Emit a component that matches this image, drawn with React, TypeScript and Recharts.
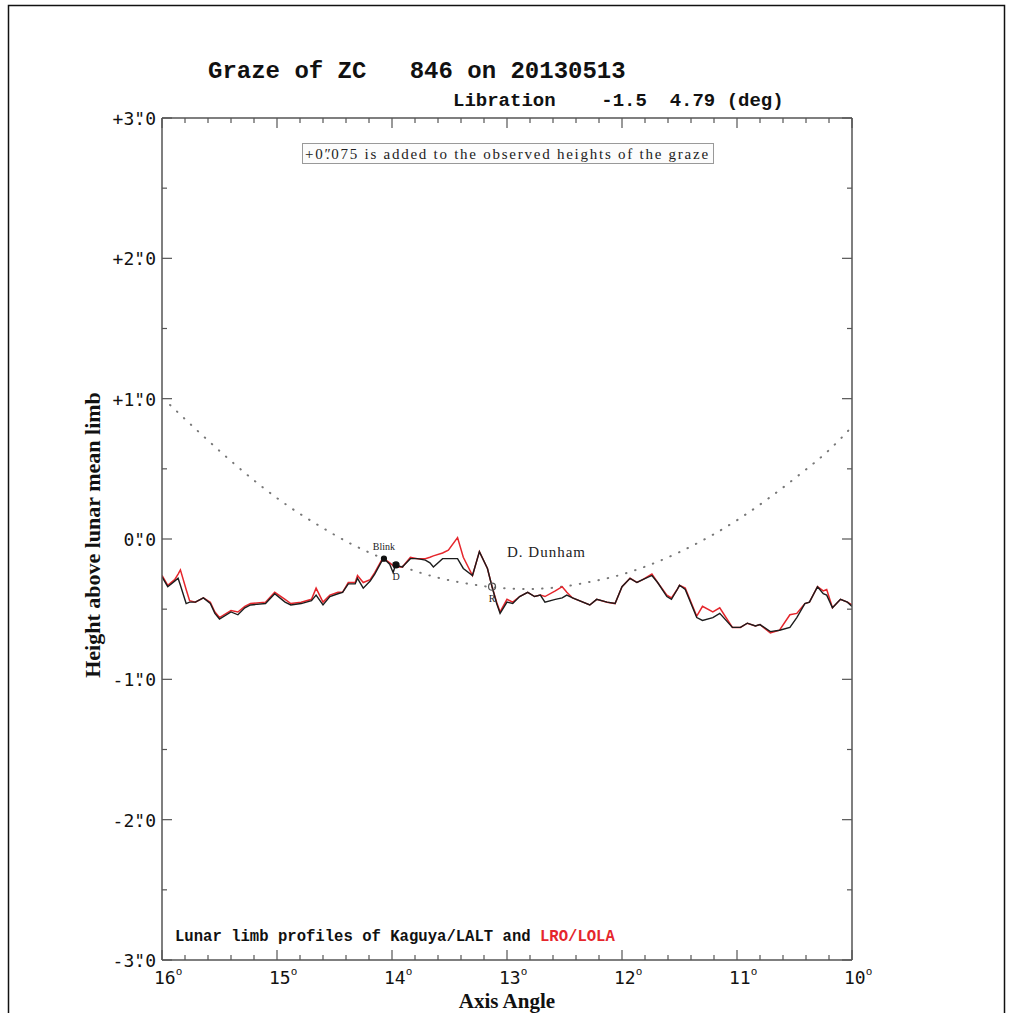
import { LineChart, Line, XAxis, YAxis, ReferenceDot } from "recharts"

// axis angle (deg) of each profile sample
const angles = [
  16.0, 15.95, 15.89, 15.86, 15.84, 15.79, 15.76, 15.71, 15.64, 15.58,
  15.54, 15.5, 15.4, 15.34, 15.28, 15.23, 15.1, 15.02, 14.93, 14.88,
  14.79, 14.7, 14.66, 14.6, 14.54, 14.47, 14.43, 14.38, 14.32, 14.3,
  14.25, 14.19, 14.15, 14.09, 14.07, 14.02, 13.99, 13.97, 13.91, 13.84,
  13.78, 13.71, 13.67, 13.64, 13.56, 13.51, 13.43, 13.38, 13.3, 13.24,
  13.17, 13.13, 13.09, 13.06, 13.0, 12.95, 12.89, 12.82, 12.76, 12.71,
  12.67, 12.58, 12.52, 12.48, 12.43, 12.28, 12.22, 12.13, 12.06, 12.0,
  11.93, 11.87, 11.82, 11.74, 11.69, 11.61, 11.57, 11.52, 11.5, 11.45,
  11.35, 11.3, 11.21, 11.15, 11.04, 10.97, 10.91, 10.84, 10.8, 10.71,
  10.63, 10.54, 10.48, 10.41, 10.37, 10.3, 10.25, 10.22, 10.17, 10.1,
  10.04, 10.0,
]

// Kaguya/LALT profile (arcsec)
const kaguya = [
  -0.27, -0.34, -0.3, -0.28, -0.33, -0.46, -0.45, -0.45, -0.42, -0.46,
  -0.53, -0.57, -0.52, -0.54, -0.49, -0.47, -0.46, -0.39, -0.45, -0.47,
  -0.46, -0.44, -0.4, -0.47, -0.41, -0.39, -0.38, -0.32, -0.32, -0.28,
  -0.35, -0.3, -0.25, -0.16, -0.14, -0.18, -0.24, -0.185, -0.2, -0.14,
  -0.14, -0.15, -0.17, -0.2, -0.14, -0.14, -0.14, -0.21, -0.26, -0.09,
  -0.21, -0.34, -0.46, -0.53, -0.45, -0.46, -0.41, -0.38, -0.41, -0.4,
  -0.45, -0.43, -0.42, -0.4, -0.42, -0.47, -0.43, -0.45, -0.46, -0.34,
  -0.28, -0.31, -0.29, -0.26, -0.31, -0.41, -0.43, -0.36, -0.33, -0.36,
  -0.56, -0.58, -0.56, -0.53, -0.63, -0.63, -0.6, -0.62, -0.61, -0.66,
  -0.65, -0.63, -0.56, -0.46, -0.45, -0.34, -0.39, -0.4, -0.49, -0.43,
  -0.45, -0.48,
]

// LRO/LOLA profile (arcsec)
const lola = [
  -0.26, -0.33, -0.29, -0.25, -0.22, -0.36, -0.44, -0.45, -0.42, -0.45,
  -0.52, -0.56, -0.51, -0.52, -0.48, -0.46, -0.45, -0.38, -0.43, -0.46,
  -0.45, -0.43, -0.35, -0.45, -0.4, -0.38, -0.38, -0.31, -0.31, -0.26,
  -0.31, -0.29, -0.24, -0.15, -0.14, -0.17, -0.19, -0.2, -0.2, -0.13,
  -0.14, -0.14, -0.13, -0.12, -0.1, -0.08, 0.01, -0.13, -0.26, -0.09,
  -0.21, -0.34, -0.45, -0.52, -0.43, -0.45, -0.41, -0.38, -0.41, -0.4,
  -0.41, -0.37, -0.34, -0.38, -0.42, -0.47, -0.43, -0.45, -0.46, -0.34,
  -0.28, -0.31, -0.29, -0.25, -0.31, -0.4, -0.42, -0.36, -0.33, -0.35,
  -0.55, -0.48, -0.52, -0.49, -0.63, -0.63, -0.6, -0.62, -0.61, -0.67,
  -0.65, -0.54, -0.53, -0.46, -0.45, -0.34, -0.37, -0.36, -0.49, -0.43,
  -0.45, -0.47,
]

// observer path (dotted)
const pathAngles = [
  15.93, 15.67, 15.41, 15.15, 14.89, 14.63, 14.37, 14.11, 13.85, 13.59,
  13.32, 13.06, 12.8, 12.54, 12.28, 12.02, 11.76, 11.5, 11.23, 10.97,
  10.71, 10.45, 10.19, 10.0,
]
const pathHeights = [
  0.955, 0.755, 0.563, 0.385, 0.228, 0.093, -0.029, -0.128, -0.214, -0.278,
  -0.321, -0.349, -0.356, -0.342, -0.306, -0.257, -0.185, -0.093, 0.021, 0.15,
  0.299, 0.463, 0.641, 0.8,
]

const eventNames = ["Blink", "D", "R"]
const eventAngles = [14.07, 13.965, 13.13]
const eventHeights = [-0.14, -0.185, -0.34]

const xTicks = [
  16, 15.8, 15.6, 15.4, 15.2, 15, 14.8, 14.6, 14.4, 14.2, 14, 13.8, 13.6, 13.4, 13.2, 13,
  12.8, 12.6, 12.4, 12.2, 12, 11.8, 11.6, 11.4, 11.2, 11, 10.8, 10.6, 10.4, 10.2, 10,
]
const yTicks = [-3, -2.5, -2, -1.5, -1, -0.5, 0, 0.5, 1, 1.5, 2, 2.5, 3]

const profileData = angles.map((a, i) => ({ a, kaguya: kaguya[i], lola: lola[i] }))
const pathData = pathAngles.map((a, i) => ({ a, h: pathHeights[i] }))

const mono = "'DejaVu Sans Mono', monospace"
const courier = "'Liberation Mono', 'Courier New', monospace"
const serif = "'Liberation Serif', 'Times New Roman', serif"
const axisColor = "#555"

const isMajor = (v: number) => Math.abs(v - Math.round(v)) < 1e-6

function XTick(props: any) {
  const { x, y, payload, top } = props
  const v = payload.value
  const len = isMajor(v) ? 10 : 5
  return (
    <g>
      <line x1={x} x2={x} y1={y} y2={top ? y + len : y - len} stroke={axisColor} strokeWidth={1.2} />
      {!top && isMajor(v) && (
        <text x={x - 8} y={y + 24} fontFamily={mono} fontSize={18} fill="#111">
          {Math.round(v)}
          <tspan fontSize={11} dy={-9}>o</tspan>
        </text>
      )}
    </g>
  )
}

function YTick(props: any) {
  const { x, y, payload, right } = props
  const v = payload.value
  const len = isMajor(v) ? 10 : 5
  const n = Math.round(v)
  const sign = n > 0 ? "+" : n < 0 ? "-" : ""
  return (
    <g>
      <line x1={x} x2={right ? x - len : x + len} y1={y} y2={y} stroke={axisColor} strokeWidth={1.2} />
      {!right && isMajor(v) && (
        <text x={x - 6} y={y + 7} textAnchor="end" fontFamily={mono} fontSize={18} fill="#111">
          {sign + Math.abs(n)}
          <tspan>"</tspan>
          <tspan dx="-0.6em">.</tspan>
          <tspan>0</tspan>
        </text>
      )}
    </g>
  )
}

export default function App() {
  return (
    <div style={{ position: "absolute", left: 0, top: 0, width: 1010, height: 1013, background: "#fff", overflow: "hidden" }}>
      <LineChart width={1010} height={1013} data={profileData} margin={{ top: 117, right: 157, bottom: 8, left: 0 }}>
        <XAxis
          dataKey="a"
          type="number"
          domain={[10, 16]}
          reversed
          allowDataOverflow
          ticks={xTicks}
          interval={0}
          height={45}
          tickSize={0}
          tickMargin={0}
          axisLine={{ stroke: axisColor, strokeWidth: 1.5 }}
          tick={(p: any) => <XTick {...p} />}
        />
        <XAxis
          xAxisId="top"
          dataKey="a"
          orientation="top"
          type="number"
          domain={[10, 16]}
          reversed
          allowDataOverflow
          ticks={xTicks}
          interval={0}
          height={1}
          tickSize={0}
          tickMargin={0}
          axisLine={{ stroke: axisColor, strokeWidth: 1.5 }}
          tick={(p: any) => <XTick {...p} top />}
        />
        <YAxis
          type="number"
          domain={[-3, 3]}
          allowDataOverflow
          ticks={yTicks}
          interval={0}
          width={162}
          tickSize={0}
          tickMargin={0}
          axisLine={{ stroke: axisColor, strokeWidth: 1.5 }}
          tick={(p: any) => <YTick {...p} />}
        />
        <YAxis
          yAxisId="right"
          orientation="right"
          type="number"
          domain={[-3, 3]}
          allowDataOverflow
          ticks={yTicks}
          interval={0}
          width={1}
          tickSize={0}
          tickMargin={0}
          axisLine={{ stroke: axisColor, strokeWidth: 1.5 }}
          tick={(p: any) => <YTick {...p} right />}
        />
        <Line
          data={pathData}
          dataKey="h"
          xAxisId="top"
          yAxisId="right"
          type="monotone"
          stroke="#777"
          strokeWidth={2}
          strokeLinecap="round"
          strokeDasharray="0.5 9"
          dot={false}
          isAnimationActive={false}
        />
        <Line dataKey="lola" type="linear" stroke="#e5262c" strokeWidth={1.5} dot={false} isAnimationActive={false} />
        <Line dataKey="kaguya" type="linear" stroke="#1c1c1c" strokeWidth={1.4} dot={false} isAnimationActive={false} />
        {eventNames.map((name, i) => (
          <ReferenceDot
            key={name}
            x={eventAngles[i]}
            y={eventHeights[i]}
            r={name === "R" ? 3.5 : name === "D" ? 3 : 2.5}
            fill={name === "R" ? "none" : "#111"}
            stroke={name === "R" ? "#555" : "#111"}
            strokeWidth={1.2}
            label={{
              value: name,
              position: name === "Blink" ? "top" : "bottom",
              offset: name === "Blink" ? 6 : 5,
              fontSize: 10,
              fontFamily: serif,
              fill: "#222",
            }}
          />
        ))}
      </LineChart>
      <svg width={1010} height={1013} style={{ position: "absolute", left: 0, top: 0, pointerEvents: "none" }}>
        <rect x={8.5} y={5.5} width={996} height={1020} fill="none" stroke="#111" strokeWidth={1.5} />
        <text x={208} y={78} fontFamily={courier} fontWeight="bold" fontSize={24} fill="#111" style={{ whiteSpace: "pre" }}>
          {"Graze of ZC   846 on 20130513"}
        </text>
        <text x={453} y={106} fontFamily={courier} fontWeight="bold" fontSize={19} fill="#111" style={{ whiteSpace: "pre" }}>
          {"Libration    -1.5  4.79 (deg)"}
        </text>
        <rect x={302.5} y={143.5} width={411} height={20} fill="#fcfcfc" stroke="#999" strokeWidth={1} />
        <text x={305} y={159} fontFamily={serif} fontSize={15} letterSpacing={1.75} fill="#222">
          +0<tspan>″</tspan>
          <tspan dx="-0.45em">.</tspan>
          <tspan>075 is added to the observed heights of the graze</tspan>
        </text>
        <text x={507} y={557} fontFamily={serif} fontSize={15} letterSpacing={1} fill="#222">
          D. Dunham
        </text>
        <text x={175} y={941} fontFamily={courier} fontWeight="bold" fontSize={15.6} fill="#111" style={{ whiteSpace: "pre" }}>
          {"Lunar limb profiles of Kaguya/LALT and "}
          <tspan fill="#e5262c">LRO/LOLA</tspan>
        </text>
        <text
          x={0}
          y={0}
          transform="translate(100 535) rotate(-90)"
          textAnchor="middle"
          fontFamily={serif}
          fontWeight="bold"
          fontSize={22}
          fill="#111"
        >
          Height above lunar mean limb
        </text>
        <text x={507} y={1008} textAnchor="middle" fontFamily={serif} fontWeight="bold" fontSize={21} fill="#111">
          Axis Angle
        </text>
      </svg>
    </div>
  )
}
